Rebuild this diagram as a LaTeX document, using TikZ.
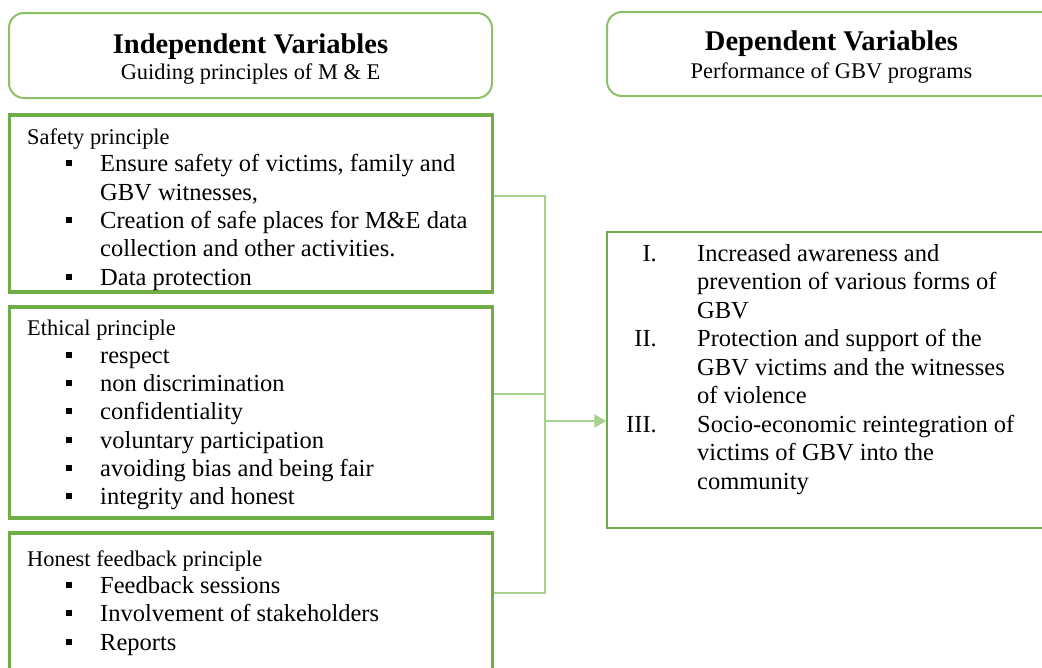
\documentclass[tikz,border=0pt]{standalone}
\usepackage{fontspec}
\setmainfont{Liberation Serif}
\usetikzlibrary{arrows.meta}
\definecolor{gdark}{HTML}{70AD47}
\definecolor{gmid}{HTML}{8CC168}
\definecolor{glight}{HTML}{A9D18E}
\newcommand{\sqbul}{\makebox[34pt][l]{\rule[5pt]{6pt}{6.5pt}}}
\tikzset{
  titlebox/.style={draw=gmid, line width=2pt, rounded corners=15pt, inner sep=0pt},
  princbox/.style={draw=gdark, line width=3.5pt, inner sep=0pt},
  outbox/.style={draw=gdark, line width=1.5pt, inner sep=0pt},
  conn/.style={draw=glight, line width=2.5pt},
  arrowconn/.style={conn, -{Triangle[length=12pt,width=13pt]}},
  ttl/.style={font=\fontsize{28.5}{30}\selectfont\bfseries, anchor=base, inner sep=0pt},
  sub/.style={font=\fontsize{22.4}{26}\selectfont, anchor=base, inner sep=0pt},
  head/.style={font=\fontsize{22.4}{26}\selectfont, anchor=base west, inner sep=0pt},
  item/.style={font=\fontsize{24.5}{28}\selectfont, anchor=base west, inner sep=0pt},
  num/.style={font=\fontsize{24.5}{28}\selectfont, anchor=base east, inner sep=0pt},
}
\begin{document}
\begin{tikzpicture}[x=1pt,y=-1pt]
\useasboundingbox[fill=white] (0,0) rectangle (1042,667);

% header boxes
\node[titlebox, minimum width=483pt, minimum height=85pt] (indep) at (250.5,55.5) {};
\node[titlebox, minimum width=449pt, minimum height=84pt] (dep) at (831.5,54) {};
\node[ttl] (indepT) at (250.5,53) {Independent Variables};
\node[sub] (indepS) at (250.5,79) {Guiding principles of M \& E};
\node[ttl] (depT) at (831.5,50) {Dependent Variables};
\node[sub] (depS) at (831.5,78) {Performance of GBV programs};

% principle boxes
\node[princbox, minimum width=483pt, minimum height=177pt] (safety) at (251,203.5) {};
\node[princbox, minimum width=483pt, minimum height=211pt] (ethical) at (251,412.5) {};
\node[princbox, minimum width=483pt, minimum height=150pt] (honest) at (251,608) {};

% safety principle
\node[head] (s0) at (27,144) {Safety principle};
\node[item] (s1) at (66,171) {\sqbul Ensure safety of victims, family and};
\node[item] (s2) at (100,200) {GBV witnesses,};
\node[item] (s3) at (66,228) {\sqbul Creation of safe places for M\&E data};
\node[item] (s4) at (100,256) {collection and other activities.};
\node[item] (s5) at (66,285) {\sqbul Data protection};

% ethical principle
\node[head] (e0) at (27,335) {Ethical principle};
\node[item] (e1) at (66,363) {\sqbul respect};
\node[item] (e2) at (66,391) {\sqbul non discrimination};
\node[item] (e3) at (66,419) {\sqbul confidentiality};
\node[item] (e4) at (66,448) {\sqbul voluntary participation};
\node[item] (e5) at (66,476) {\sqbul avoiding bias and being fair};
\node[item] (e6) at (66,504) {\sqbul integrity and honest};

% honest feedback principle
\node[head] (h0) at (27,566) {Honest feedback principle};
\node[item] (h1) at (66,593) {\sqbul Feedback sessions};
\node[item] (h2) at (66,621) {\sqbul Involvement of stakeholders};
\node[item] (h3) at (66,650) {\sqbul Reports};

% outcome box
\node[outbox, minimum width=453pt, minimum height=296pt] (outcome) at (833.5,380) {};
\node[num] (n1) at (657,261) {I.};
\node[item] (o1) at (697,261) {Increased awareness and};
\node[item] (o2) at (697,289.5) {prevention of various forms of};
\node[item] (o3) at (697,318) {GBV};
\node[num] (n2) at (657,346.5) {II.};
\node[item] (o4) at (697,346.5) {Protection and support of the};
\node[item] (o5) at (697,375) {GBV victims and the witnesses};
\node[item] (o6) at (697,403.5) {of violence};
\node[num] (n3) at (657,432) {III.};
\node[item] (o7) at (697,432) {Socio-economic reintegration of};
\node[item] (o8) at (697,460.5) {victims of GBV into the};
\node[item] (o9) at (697,489) {community};

% connectors
\coordinate (busS) at (545,196);
\coordinate (busE) at (545,394);
\coordinate (busH) at (545,593);
\coordinate (busOut) at (545,421);
\draw[conn] (busS -| safety.east) -- (busS) -- (busH) -- (busH -| honest.east);
\draw[conn] (busE -| ethical.east) -- (busE);
\draw[arrowconn] (busOut) -- (busOut -| outcome.west);
\end{tikzpicture}
\end{document}
